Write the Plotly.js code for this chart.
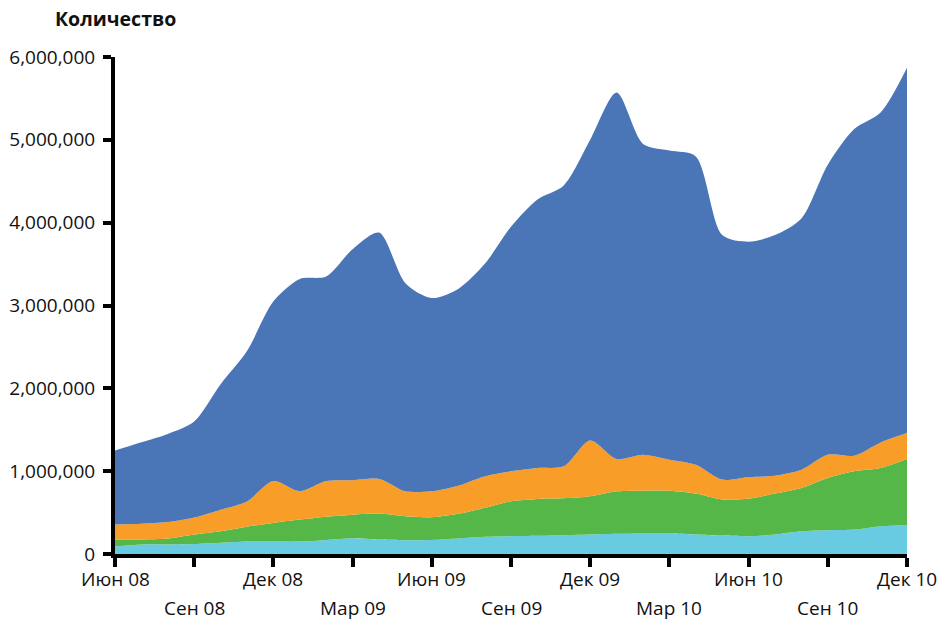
<!DOCTYPE html>
<html>
<head>
<meta charset="utf-8">
<script src="https://cdn.plot.ly/plotly-3.0.1.min.js"></script>
<style>
html,body{margin:0;padding:0;background:#fff;}
#chart{width:940px;height:620px;}
</style>
</head>
<body>
<div id="chart"></div>
<script>
// Months Jun 08 .. Dec 10 (index 0..30)
var months = ["Июн 08","Июл 08","Авг 08","Сен 08","Окт 08","Ноя 08","Дек 08","Янв 09","Фев 09","Мар 09","Апр 09","Май 09",
  "Июн 09","Июл 09","Авг 09","Сен 09","Окт 09","Ноя 09","Дек 09","Янв 10","Фев 10","Мар 10","Апр 10","Май 10",
  "Июн 10","Июл 10","Авг 10","Сен 10","Окт 10","Ноя 10","Дек 10"];

// Series values (bottom to top)
var seriesCyan = [90000,115000,115000,120000,135000,150000,150000,150000,170000,190000,175000,167000,
  170000,187000,207000,215000,220000,227000,235000,243000,247000,247000,235000,223000,
  215000,235000,275000,287000,295000,335000,347000];
var seriesGreen = [85000,60000,72000,115000,140000,180000,225000,265000,280000,285000,313000,288000,
  273000,298000,350000,421000,445000,445000,461000,514000,518000,516000,494000,434000,
  454000,494000,522000,631000,703000,703000,800000];
var seriesOrange = [180000,190000,198000,205000,260000,305000,505000,342000,430000,415000,418000,302000,
  314000,340000,380000,362000,373000,386000,675000,390000,434000,376000,349000,241000,
  261000,217000,221000,281000,189000,309000,313000];
var seriesBlue = [895000,985000,1065000,1160000,1515000,1815000,2170000,2563000,2470000,2790000,2974000,2513000,
  2333000,2375000,2563000,2952000,3242000,3392000,3629000,4423000,3751000,3731000,3722000,2952000,
  2840000,2904000,3032000,3501000,3943000,3983000,4410000];

// Axis ticks (row 1 and row 2 labels)
var xTickVals = [0,6,12,18,24,30];
var xTickText = ["Июн 08","Дек 08","Июн 09","Дек 09","Июн 10","Дек 10"];
var xTickVals2 = [3,9,15,21,27];
var xTickText2 = ["Сен 08","Мар 09","Сен 09","Мар 10","Сен 10"];
var yTickVals = [0,1000000,2000000,3000000,4000000,5000000,6000000];
var yTitle = "Количество";

var xIdx = months.map(function(m,i){return i;});
var colors = ["#69cbe1","#54b748","#f89d27","#4a75b7"];
var series = [seriesCyan, seriesGreen, seriesOrange, seriesBlue];

var traces = series.map(function(s,k){
  return {
    x: xIdx, y: s, type: "scatter", mode: "lines",
    stackgroup: "one",
    line: {width: 0, shape: "spline", smoothing: 0.8, color: colors[k]},
    fillcolor: colors[k],
    hoverinfo: "skip"
  };
});

var font = {family: "Open Sans, sans-serif", size: 19, color: "#111"};

var annotations = [];
xTickVals.forEach(function(v,i){
  annotations.push({x: v, xref: "x", y: 0, yref: "paper", yshift: -11, text: xTickText[i],
    showarrow: false, xanchor: "center", yanchor: "top", font: font, borderpad: 0});
});
xTickVals2.forEach(function(v,i){
  annotations.push({x: v, xref: "x", y: 0, yref: "paper", yshift: -40, text: xTickText2[i],
    showarrow: false, xanchor: "center", yanchor: "top", font: font, borderpad: 0});
});
annotations.push({x: (53 - 115) / (940 - 115 - 33), xref: "paper",
  y: 1 + (57 - 19) / (620 - 57 - 66), yref: "paper", text: "<b>" + yTitle + "</b>",
  showarrow: false, xanchor: "left", yanchor: "middle",
  font: {family: "Open Sans, sans-serif", size: 19.5, color: "#111"}});

var layout = {
  width: 940, height: 620,
  margin: {l: 115, r: 33, t: 57, b: 66},
  paper_bgcolor: "#fff", plot_bgcolor: "#fff",
  showlegend: false,
  font: font,
  xaxis: {
    range: [0, 30], tickmode: "array", tickvals: xTickVals.concat(xTickVals2),
    showticklabels: false,
    ticks: "outside", ticklen: 9, tickwidth: 4, tickcolor: "#000",
    showline: true, linewidth: 4, linecolor: "#000",
    showgrid: false, zeroline: false, fixedrange: true
  },
  yaxis: {
    range: [0, 6000000], tickmode: "array", tickvals: yTickVals, tickformat: ",d",
    ticks: "outside", ticklen: 8, tickwidth: 4, tickcolor: "#000",
    showline: true, linewidth: 4, linecolor: "#000",
    showgrid: false, zeroline: false, fixedrange: true,
    ticklabelstandoff: 4,
    tickfont: font
  },
  annotations: annotations
};

Plotly.newPlot("chart", traces, layout, {displayModeBar: false, staticPlot: true});
</script>
</body>
</html>
